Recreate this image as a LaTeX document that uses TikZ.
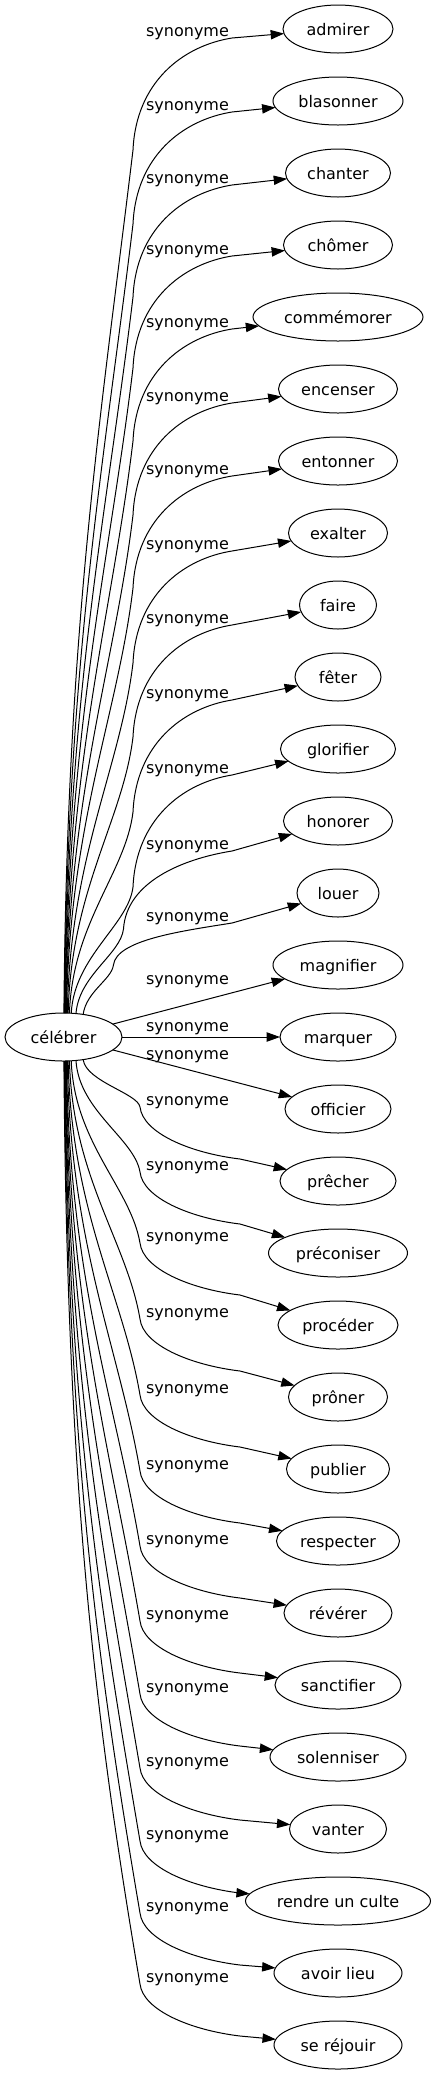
\documentclass[tikz,border=0pt]{standalone}
\usepackage{fontspec}
\setmainfont{DejaVu Sans}
\usetikzlibrary{arrows.meta,shapes.geometric}
\begin{document}
\begin{tikzpicture}[x=0.75pt,y=-0.75pt,
  word/.style={draw, ellipse, line width=0.75pt, inner sep=0pt, outer sep=0pt,
    minimum height=36pt, text height=9.1pt, text depth=0pt,
    font=\fontsize{12}{14}\selectfont},
  lab/.style={anchor=base, inner sep=0pt, font=\fontsize{12}{14}\selectfont},
  edge/.style={line width=0.75pt, -{Triangle[length=10pt,width=7pt]}}]
\useasboundingbox (0,0) rectangle (435,2075);
\node[word, minimum width=87.75pt] (cel) at (63.5,1037) {célébrer};
\foreach \i/\w/\txt in {0/110/admirer, 1/130/blasonner, 2/105/chanter, 3/109/chômer,
  4/170/commémorer, 5/119/encenser, 6/119/entonner, 7/99/exalter, 8/77/faire,
  9/86/fêter, 10/115/glorifier, 11/109/honorer, 12/82/louer, 13/130/magnifier,
  14/116/marquer, 15/106/officier, 16/116/prêcher, 17/139/préconiser,
  18/120/procéder, 19/99/prôner, 20/103/publier, 21/123/respecter,
  22/108/révérer, 23/126/sanctifier, 24/136/solenniser, 25/97/vanter,
  26/185/rendre un culte, 27/128/avoir lieu, 28/128/se réjouir}
  \node[word, minimum width=\w*0.75pt] (n\i) at (338,29+72*\i) {\txt};
\foreach \i/\yl in {0/32, 1/106, 2/179, 3/250, 4/323, 5/397, 6/470, 7/545, 8/619,
  9/694, 10/769, 11/845, 12/917, 13/980, 14/1027, 15/1055, 16/1101, 17/1166,
  18/1237, 19/1313, 20/1389, 21/1465, 22/1540, 23/1615, 24/1688, 25/1762,
  26/1835, 27/1907, 28/1978}
  \node[lab] (l\i) at (187.5,\yl+4.4) {synonyme};
% upper curved edges
\foreach \i/\yl/\ang in {0/32/89, 1/106/88, 2/179/87, 3/250/86, 4/323/85, 5/397/84,
  6/470/83, 7/545/81, 8/619/79, 9/694/76, 10/769/72, 11/845/62, 12/917/49}{
  \pgfmathsetmacro\sx{63.5+cos(\ang)/sqrt((cos(\ang)/58.5)^2+(sin(\ang)/24)^2)}
  \pgfmathsetmacro\h{min(118,0.5*(1013-\yl))}
  \pgfmathsetmacro\Ky{\yl+\h}
  \pgfmathsetmacro\Kx{100+33*\h/118}
  \pgfmathsetmacro\D{1013-\Ky}
  \pgfmathsetmacro\cay{1013-0.45*\D}
  \pgfmathsetmacro\cbx{\Kx-0.036*\D}
  \pgfmathsetmacro\cby{\Ky+0.3*\D}
  \pgfmathsetmacro\Ly{\yl+6}
  \pgfmathsetmacro\ccy{\Ky-0.6*(\Ky-\Ly)}
  \draw[edge] (cel.\ang) .. controls (\sx+3,\cay) and (\cbx,\cby) .. (\Kx,\Ky)
    .. controls (\Kx+3,\ccy) and (182,\Ly+8) .. (232,\Ly) -- (n\i);
}
% straight edges
\draw[edge] (cel) -- (n13);
\draw[edge] (cel) -- (n14);
\draw[edge] (cel) -- (n15);
% lower curved edges
\foreach \i/\yl/\ang in {16/1101/-49, 17/1166/-62, 18/1237/-72, 19/1313/-76,
  20/1389/-79, 21/1465/-81, 22/1540/-83, 23/1615/-84, 24/1688/-85, 25/1762/-86,
  26/1835/-87, 27/1907/-88, 28/1978/-89}{
  \pgfmathsetmacro\sx{63.5+cos(\ang)/sqrt((cos(\ang)/58.5)^2+(sin(\ang)/24)^2)}
  \pgfmathsetmacro\Ky{\yl+6}
  \pgfmathsetmacro\D{\Ky-1061}
  \pgfmathsetmacro\cay{1061+0.45*\D}
  \pgfmathsetmacro\cbx{140-0.051*\D}
  \pgfmathsetmacro\cby{\Ky-0.3*\D}
  \pgfmathsetmacro\Ly{\yl+58}
  \pgfmathsetmacro\ccy{\Ky+0.5*(\Ly-\Ky)}
  \draw[edge] (cel.\ang) .. controls (\sx+3,\cay) and (\cbx,\cby) .. (140,\Ky)
    .. controls (143,\ccy) and (190,\Ly-6) .. (240,\Ly) -- (n\i);
}
\end{tikzpicture}
\end{document}
